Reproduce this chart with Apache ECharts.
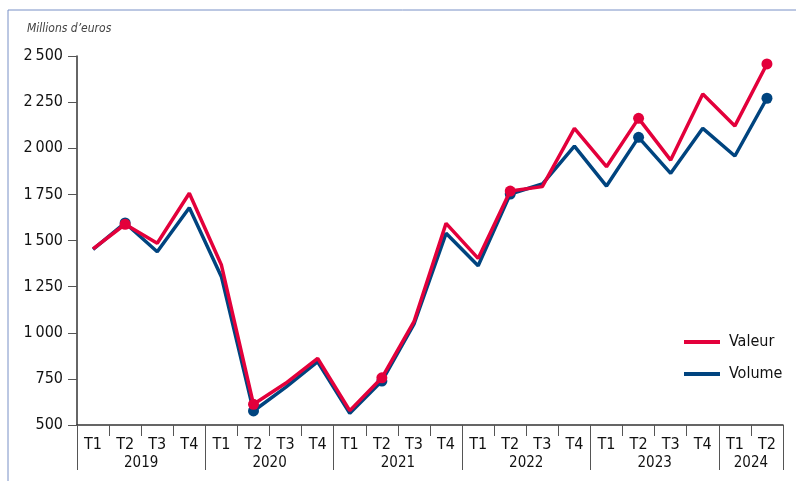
<!DOCTYPE html>
<html>
<head>
<meta charset="utf-8">
<script src="https://cdn.jsdelivr.net/npm/echarts@6/dist/echarts.min.js"></script>
<style>
  html,body{margin:0;padding:0;background:#fff;}
  #chart{width:796px;height:481px;}
</style>
</head>
<body>
<div id="chart"></div>
<script>
var quarters=['T1','T2','T3','T4','T1','T2','T3','T4','T1','T2','T3','T4','T1','T2','T3','T4','T1','T2','T3','T4','T1','T2'];
var years=['2019','2020','2021','2022','2023','2024'];
var quartersPerYear=[4,4,4,4,4,2];
var valeur=[1455,1588,1485,1756,1367,612,726,861,578,756,1060,1593,1403,1768,1792,2108,1900,2162,1936,2294,2121,2457];
var volume=[1452,1595,1439,1678,1304,576,704,843,563,738,1047,1539,1363,1752,1806,2012,1795,2059,1864,2108,1958,2271];
var yTicks=[500,750,1000,1250,1500,1750,2000,2250,2500];

var FONT='"Liberation Sans Narrow","DejaVu Sans Condensed",sans-serif';
var RED='#e3003b';
var BLUE='#00447f';

//axe des annees : demi-positions (boundaryGap false)
var yearSlots=[];
var yearBounds={};
var pos=0;
yearBounds[0]=true;
for(var i=0;i<years.length;i++){
    var n=quartersPerYear[i]*2;
    for(var k=0;k<n;k++){
        yearSlots.push(k===n/2?years[i]:'');
    }
    pos+=n;
    yearBounds[pos]=true;
}
yearSlots.push('');

function fmt(v){
    var s=String(v);
    if(s.length>3){
        s=s.slice(0,s.length-3)+'\u2009'+s.slice(-3);
    }
    return s;
}

var chart=echarts.init(document.getElementById('chart'));
chart.setOption({
    animation:false,
    textStyle:{fontFamily:FONT},
    grid:{left:77,right:13,top:56,bottom:56,containLabel:false},
    graphic:[
        {
            type:'rect',
            shape:{x:8,y:10,width:820,height:500},
            style:{fill:'none',stroke:'#7890c6',lineWidth:1},
            silent:true
        },
        {
            type:'text',
            left:27,
            top:23,
            style:{text:'Millions d\u2019euros',fontFamily:FONT,fontStyle:'italic',fontSize:12,fill:'#444'}
        }
    ],
    legend:{
        data:['Valeur','Volume'],
        orient:'vertical',
        left:684,
        top:334,
        padding:0,
        itemWidth:36,
        itemHeight:4,
        itemGap:16,
        icon:'rect',
        textStyle:{fontFamily:FONT,fontSize:16,color:'#111',padding:[0,0,0,4]}
    },
    xAxis:[
        {
            type:'category',
            data:quarters,
            position:'bottom',
            axisLine:{show:true,lineStyle:{color:'#333',width:1.5}},
            axisTick:{show:true,length:11,lineStyle:{color:'#555',width:1}},
            axisLabel:{interval:0,margin:12,fontFamily:FONT,fontSize:16,color:'#111'},
            splitLine:{show:false}
        },
        {
            type:'category',
            data:yearSlots,
            boundaryGap:false,
            position:'bottom',
            axisLine:{show:false},
            axisTick:{
                show:true,
                length:45,
                interval:function(idx){return !!yearBounds[idx];},
                lineStyle:{color:'#555',width:1}
            },
            axisLabel:{interval:0,margin:31,fontFamily:FONT,fontSize:15,color:'#111'},
            splitLine:{show:false}
        }
    ],
    yAxis:{
        type:'value',
        min:yTicks[0],
        max:yTicks[yTicks.length-1],
        interval:250,
        axisLine:{show:true,lineStyle:{color:'#333',width:1.5}},
        axisTick:{show:true,length:9,lineStyle:{color:'#555'}},
        axisLabel:{margin:14,fontFamily:FONT,fontSize:16,color:'#111',formatter:fmt},
        splitLine:{show:false}
    },
    series:[
        {
            name:'Volume',
            type:'line',
            xAxisIndex:0,
            data:volume,
            color:BLUE,
            lineStyle:{width:3.5,color:BLUE},
            itemStyle:{color:BLUE},
            symbol:function(v,p){return p.dataIndex%4===1?'circle':'none';},
            symbolSize:11,
            showAllSymbol:true,
            z:2
        },
        {
            name:'Valeur',
            type:'line',
            xAxisIndex:0,
            data:valeur,
            color:RED,
            lineStyle:{width:3.5,color:RED},
            itemStyle:{color:RED},
            symbol:function(v,p){return p.dataIndex%4===1?'circle':'none';},
            symbolSize:11,
            showAllSymbol:true,
            z:3
        }
    ]
});
</script>
</body>
</html>
